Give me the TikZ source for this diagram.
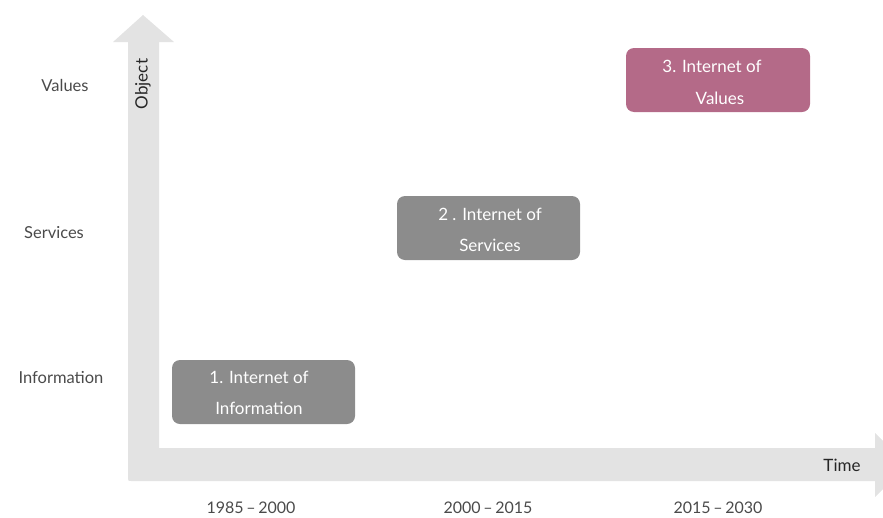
\documentclass[tikz,border=0pt]{standalone}
\usepackage{fontspec}
\setmainfont{Lato}
\definecolor{arrowgray}{HTML}{E3E3E3}
\definecolor{boxgray}{HTML}{8C8C8C}
\definecolor{boxpink}{HTML}{B46A88}
\definecolor{labelgray}{HTML}{4A4A4A}
\begin{document}
\begin{tikzpicture}[x=1pt,y=-1pt,
  box/.style={rounded corners=8pt, inner sep=0pt},
  boxtext/.style={text=white, font=\fontsize{17}{20}\selectfont, inner sep=0pt, anchor=center},
  axislabel/.style={text=labelgray, font=\fontsize{16.5}{19}\selectfont, inner sep=0pt, anchor=center},
  yearlabel/.style={text=labelgray, font=\fontsize{16}{19}\selectfont, inner sep=0pt, anchor=center},
  axisname/.style={text=black!85, font=\fontsize{17}{20}\selectfont, inner sep=0pt, anchor=center}]
\useasboundingbox (0,0) rectangle (883,517);
\clip (0,0) rectangle (883,517);
% axes arrow
\fill[arrowgray] (143,15) -- (174,42) -- (159,42) -- (159,448) -- (875,448) -- (875,433)
  -- (907,465) -- (875,497) -- (875,481) -- (131,481) .. controls (128,481) .. (128,478) -- (128,42) -- (113,42) -- cycle;
% boxes
\fill[boxgray, box] (172,360) rectangle (355,424);
\fill[boxgray, box] (397,196) rectangle (580,260);
\fill[boxpink, box] (626,48) rectangle (810,112);
\node[boxtext] (b1a) at (259,377) {1. Internet of};
\node[boxtext] (b1b) at (259,408) {Information};
\node[boxtext] (b2a) at (490,214) {2 . Internet of};
\node[boxtext] (b2b) at (490,245) {Services};
\node[boxtext] (b3a) at (712,66) {3. Internet of};
\node[boxtext] (b3b) at (720,98) {Values};
% axis labels
\node[axislabel] (lv) at (65,85) {Values};
\node[axislabel] (ls) at (54,233) {Services};
\node[axislabel] (li) at (61,378) {Information};
\node[yearlabel] (t1) at (251,508) {1985\,–\,2000};
\node[yearlabel] (t2) at (488,508) {2000\,–\,2015};
\node[yearlabel] (t3) at (718,508) {2015\,–\,2030};
\node[axisname, rotate=90] (obj) at (143,84) {Object};
\node[axisname] (time) at (842,465) {Time};
\end{tikzpicture}
\end{document}
